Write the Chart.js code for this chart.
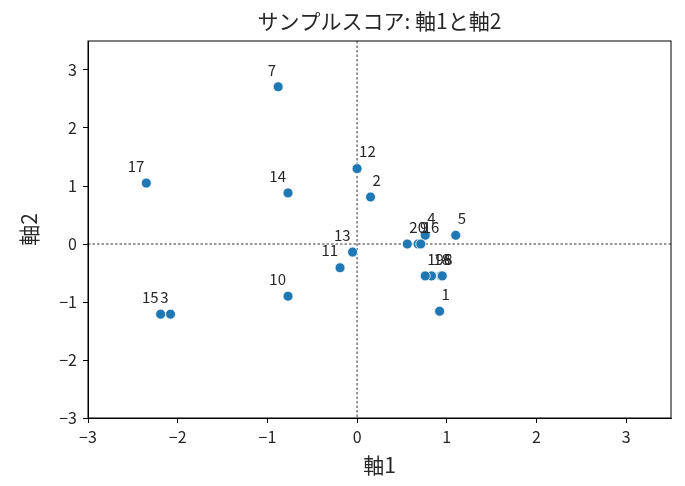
<!DOCTYPE html>
<html>
<head>
<meta charset="utf-8">
<script src="https://cdn.jsdelivr.net/npm/chart.js@4/dist/chart.umd.min.js"></script>
<style>
  html, body { margin: 0; padding: 0; background: #fff; }
  #wrap { width: 685px; height: 486px; }
</style>
</head>
<body>
<div id="wrap"><canvas id="score-chart"></canvas></div>
<script>
// サンプル番号とスコア（軸1, 軸2）
const sampleLabels = ['1', '2', '3', '4', '5', '6', '7', '8', '9', '10',
                      '11', '12', '13', '14', '15', '16', '17', '18', '19', '20'];
const axis1Scores = [0.92, 0.15, -2.08, 0.76, 1.10, 0.94, -0.88, 0.95, 0.68, -0.77,
                     -0.19, 0.00, -0.05, -0.77, -2.19, 0.71, -2.35, 0.83, 0.76, 0.56];
const axis2Scores = [-1.16, 0.81, -1.21, 0.15, 0.15, -0.55, 2.71, -0.55, 0.00, -0.90,
                     -0.41, 1.30, -0.14, 0.88, -1.21, 0.00, 1.05, -0.55, -0.55, 0.00];
const xTicks = [-3, -2, -1, 0, 1, 2, 3];
const yTicks = [-3, -2, -1, 0, 1, 2, 3];
const chartTitle = 'サンプルスコア: 軸1と軸2';

const FONT = "'Noto Sans CJK JP', 'Noto Sans', sans-serif";
const TEXT = '#262626';

const points = axis1Scores.map((x, i) => ({ x: x, y: axis2Scores[i] }));

// 枠線・原点の破線・タイトル（プロット領域の中央に置く）
const framePlugin = {
    id: 'frame',
    beforeDatasetsDraw(chart) {
        const { ctx, chartArea, scales } = chart;
        const x0 = scales.x.getPixelForValue(0);
        const y0 = scales.y.getPixelForValue(0);
        ctx.save();
        ctx.strokeStyle = '#000';
        ctx.lineWidth = 0.8;
        ctx.setLineDash([2.5, 2]);
        ctx.beginPath();
        ctx.moveTo(x0, chartArea.top);
        ctx.lineTo(x0, chartArea.bottom);
        ctx.moveTo(chartArea.left, y0);
        ctx.lineTo(chartArea.right, y0);
        ctx.stroke();
        ctx.restore();
    },
    afterDraw(chart) {
        const { ctx, chartArea } = chart;
        ctx.save();
        ctx.strokeStyle = '#000';
        ctx.lineWidth = 1;
        ctx.strokeRect(chartArea.left, chartArea.top,
                       chartArea.right - chartArea.left, chartArea.bottom - chartArea.top);
        ctx.font = '21px ' + FONT;
        ctx.fillStyle = TEXT;
        ctx.textAlign = 'center';
        ctx.textBaseline = 'middle';
        ctx.fillText(chartTitle, (chartArea.left + chartArea.right) / 2, 21);
        ctx.restore();
    }
};

// 各点の番号ラベル
const pointLabelPlugin = {
    id: 'pointLabels',
    afterDatasetsDraw(chart) {
        const { ctx } = chart;
        const meta = chart.getDatasetMeta(0);
        ctx.save();
        ctx.font = '15px ' + FONT;
        ctx.fillStyle = TEXT;
        ctx.textBaseline = 'middle';
        meta.data.forEach((el, i) => {
            const left = axis1Scores[i] < 0;
            ctx.textAlign = left ? 'right' : 'left';
            ctx.fillText(sampleLabels[i], el.x + (left ? -2 : 2), el.y - 17);
        });
        ctx.restore();
    }
};

const minusSign = v => String(v).replace('-', '\u2212');

new Chart(document.getElementById('score-chart'), {
    type: 'scatter',
    data: {
        datasets: [{
            data: points,
            backgroundColor: '#1f77b4',
            borderColor: '#ffffff',
            borderWidth: 0.8,
            pointRadius: 5,
            pointHoverRadius: 5
        }]
    },
    options: {
        responsive: true,
        maintainAspectRatio: false,
        animation: false,
        layout: { padding: { left: 0, right: 14, top: 41, bottom: 0 } },
        plugins: {
            legend: { display: false },
            tooltip: { enabled: false },
            title: { display: false }
        },
        scales: {
            x: {
                type: 'linear',
                min: -3,
                max: 3.5,
                afterBuildTicks(scale) { scale.ticks = xTicks.map(v => ({ value: v })); },
                afterFit(scale) { scale.height = 68; },
                ticks: {
                    color: TEXT,
                    font: { family: FONT, size: 16 },
                    padding: 4,
                    maxRotation: 0,
                    callback: minusSign
                },
                grid: { display: true, drawOnChartArea: false, drawTicks: true, tickLength: 5, color: '#000' },
                border: { display: true, color: '#000' },
                title: {
                    display: true,
                    text: '軸1',
                    color: TEXT,
                    font: { family: FONT, size: 21 },
                    padding: { top: 0, bottom: 8 }
                }
            },
            y: {
                type: 'linear',
                min: -3,
                max: 3.5,
                afterBuildTicks(scale) { scale.ticks = yTicks.map(v => ({ value: v })); },
                afterFit(scale) { scale.width = 88; },
                ticks: {
                    color: TEXT,
                    font: { family: FONT, size: 16 },
                    padding: 6,
                    callback: minusSign
                },
                grid: { display: true, drawOnChartArea: false, drawTicks: true, tickLength: 5, color: '#000' },
                border: { display: true, color: '#000' },
                title: {
                    display: true,
                    text: '軸2',
                    color: TEXT,
                    font: { family: FONT, size: 21 },
                    padding: { top: 16, bottom: 0 }
                }
            }
        }
    },
    plugins: [framePlugin, pointLabelPlugin]
});
</script>
</body>
</html>
